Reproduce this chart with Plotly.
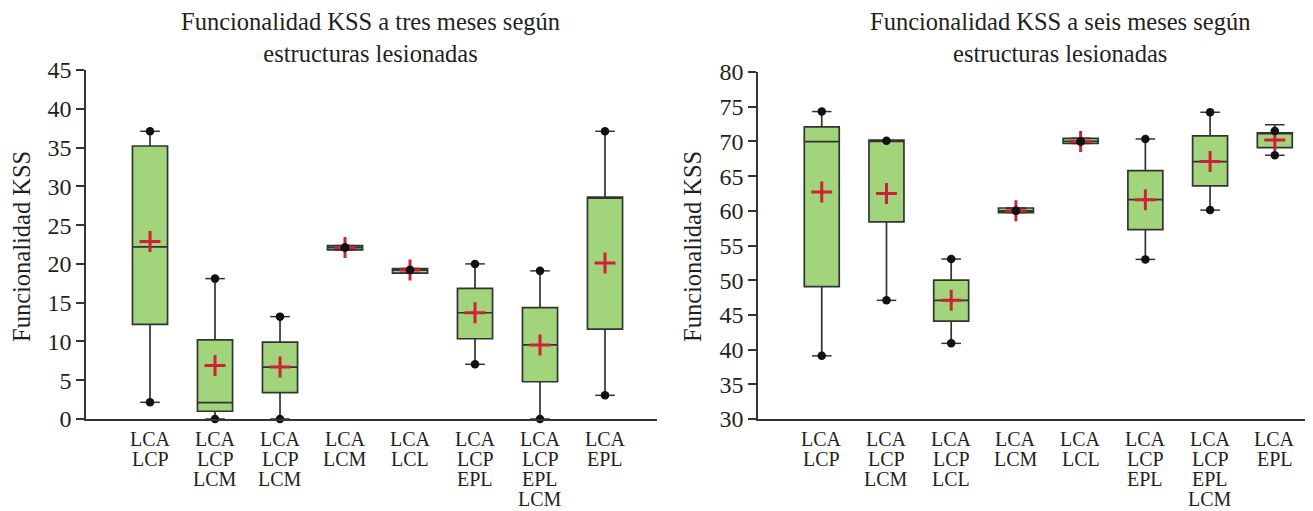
import plotly.graph_objects as go

# ---------------- data ----------------
cats_3m = ["LCA<br>LCP", "LCA<br>LCP<br>LCM", "LCA<br>LCP<br>LCM", "LCA<br>LCM",
           "LCA<br>LCL", "LCA<br>LCP<br>EPL", "LCA<br>LCP<br>EPL<br>LCM", "LCA<br>EPL"]
q1_3m = [12.2, 1.0, 3.4, 21.8, 18.8, 10.35, 4.8, 11.6]
med_3m = [22.2, 2.1, 6.7, 22.1, 19.2, 13.7, 9.55, 28.6]
q3_3m = [35.2, 10.2, 9.9, 22.35, 19.4, 16.85, 14.35, 28.6]
lo_3m = [2.15, 0.0, 0.0, 21.8, 18.8, 7.05, 0.0, 3.05]
hi_3m = [37.1, 18.1, 13.2, 22.35, 19.4, 20.0, 19.1, 37.1]
dlo_3m = [2.15, 0.0, 0.0, 22.1, 19.2, 7.05, 0.0, 3.05]
dhi_3m = [37.1, 18.1, 13.2, 22.1, 19.2, 20.0, 19.1, 37.1]
mean_3m = [22.9, 6.9, 6.7, 22.1, 19.2, 13.7, 9.55, 20.1]

cats_6m = ["LCA<br>LCP", "LCA<br>LCP<br>LCM", "LCA<br>LCP<br>LCL", "LCA<br>LCM",
           "LCA<br>LCL", "LCA<br>LCP<br>EPL", "LCA<br>LCP<br>EPL<br>LCM", "LCA<br>EPL"]
q1_6m = [49.07, 58.4, 44.1, 59.75, 69.7, 57.3, 63.6, 69.1]
med_6m = [69.96, 70.0, 47.1, 60.0, 70.0, 61.6, 67.1, 71.25]
q3_6m = [72.1, 70.2, 50.0, 60.4, 70.45, 65.8, 70.8, 71.25]
lo_6m = [39.1, 47.1, 40.9, 59.75, 69.7, 53.0, 60.1, 68.0]
hi_6m = [74.3, 70.1, 53.05, 60.4, 70.45, 70.35, 74.2, 72.4]
dlo_6m = [39.1, 47.1, 40.9, 60.0, 70.0, 53.0, 60.1, 68.0]
dhi_6m = [74.3, 70.1, 53.05, 60.0, 70.0, 70.35, 74.2, 71.5]
mean_6m = [62.7, 62.5, 47.1, 60.0, 70.0, 61.6, 67.1, 70.2]

yticks_3m = list(range(0, 46, 5))
yticks_6m = list(range(30, 81, 5))

title_3m = "Funcionalidad KSS a tres meses según<br>estructuras lesionadas"
title_6m = "Funcionalidad KSS a seis meses según<br>estructuras lesionadas"
ytitle = "Funcionalidad KSS"

# ---------------- style ----------------
FONT = "Liberation Serif"
TXT = "#231f20"
FILL = "#a2d47c"
EDGE = "#333333"
RED = "#d02038"
W, H = 1313, 511
OFF = 8  # page body margin of the rendered html


def fx(px):
    return (px - OFF) / W


def fy(py):
    return (H - (py - OFF)) / H


fig = go.Figure()


def add_panel(cats, q1, med, q3, lo, hi, dlo, dhi, mean, xa, ya):
    xs = list(range(len(cats)))
    fig.add_trace(go.Box(x=xs, q1=q1, median=med, q3=q3, lowerfence=lo, upperfence=hi,
                         width=0.54, whiskerwidth=0, fillcolor=FILL,
                         line=dict(color=EDGE, width=1.7), boxpoints=False,
                         xaxis=xa, yaxis=ya, showlegend=False, hoverinfo="skip"))
    # whisker caps
    fig.add_trace(go.Scatter(x=xs + xs, y=lo + hi, mode="markers", xaxis=xa, yaxis=ya,
                             marker=dict(symbol="line-ew", size=14,
                                         line=dict(color=EDGE, width=1.5)),
                             showlegend=False, hoverinfo="skip", cliponaxis=False))
    # means
    fig.add_trace(go.Scatter(x=xs, y=mean, mode="markers", xaxis=xa, yaxis=ya,
                             marker=dict(symbol="cross-thin", size=15,
                                         line=dict(color=RED, width=3)),
                             showlegend=False, hoverinfo="skip", cliponaxis=False))
    # min / max points
    fig.add_trace(go.Scatter(x=xs + xs, y=dlo + dhi, mode="markers", xaxis=xa, yaxis=ya,
                             marker=dict(symbol="circle", size=8.5, color="#111111"),
                             showlegend=False, hoverinfo="skip", cliponaxis=False))
    # category labels, one text per line
    for i, c in enumerate(cats):
        for j, part in enumerate(c.split("<br>")):
            fig.add_annotation(xref=xa, yref="paper", x=i, y=fy(439 + 20 * j),
                               text=part, showarrow=False, xanchor="center",
                               yanchor="middle",
                               font=dict(family=FONT, size=20, color=TXT))


add_panel(cats_3m, q1_3m, med_3m, q3_3m, lo_3m, hi_3m, dlo_3m, dhi_3m, mean_3m, "x", "y")
add_panel(cats_6m, q1_6m, med_6m, q3_6m, lo_6m, hi_6m, dlo_6m, dhi_6m, mean_6m, "x2", "y2")

axis_common = dict(showline=True, linecolor=EDGE, linewidth=1.5, showgrid=False,
                   zeroline=False, fixedrange=True, automargin=False)

fig.update_layout(
    template="none",
    width=W, height=H,
    margin=dict(l=0, r=0, t=0, b=0, pad=0),
    paper_bgcolor="white", plot_bgcolor="white",
    font=dict(family=FONT, color=TXT),
    xaxis=dict(domain=[fx(86), fx(657)], range=[-0.985, 7.8],
               tickvals=list(range(len(cats_3m))), showticklabels=False, ticks="",
               anchor="y", **axis_common),
    yaxis=dict(domain=[fy(419), fy(70)], range=[0, 45],
               tickmode="array", tickvals=yticks_3m,
               ticks="outside", ticklen=8, tickwidth=1.5, tickcolor=EDGE,
               tickfont=dict(size=24, family=FONT, color=TXT),
               anchor="x", **axis_common),
    xaxis2=dict(domain=[fx(758), fx(1313)], range=[-0.985, 7.59],
                tickvals=list(range(len(cats_6m))), showticklabels=False, ticks="",
                anchor="y2", **axis_common),
    yaxis2=dict(domain=[fy(419), fy(72)], range=[30, 80],
                tickmode="array", tickvals=yticks_6m,
                ticks="outside", ticklen=8, tickwidth=1.5, tickcolor=EDGE,
                tickfont=dict(size=24, family=FONT, color=TXT),
                anchor="x2", **axis_common),
)

ann = [
    dict(text=title_3m, x=fx(370), y=fy(37), size=24.5, angle=0),
    dict(text=title_6m, x=fx(1060), y=fy(37), size=24.5, angle=0),
    dict(text=ytitle, x=fx(21), y=fy(247), size=24.5, angle=-90),
    dict(text=ytitle, x=fx(692), y=fy(247), size=24.5, angle=-90),
]
for a in ann:
    fig.add_annotation(xref="paper", yref="paper", showarrow=False,
                       xanchor="center", yanchor="middle",
                       font=dict(family=FONT, color=TXT, size=a["size"]),
                       text=a["text"], x=a["x"], y=a["y"], textangle=a["angle"])

fig.write_html("out.html")
